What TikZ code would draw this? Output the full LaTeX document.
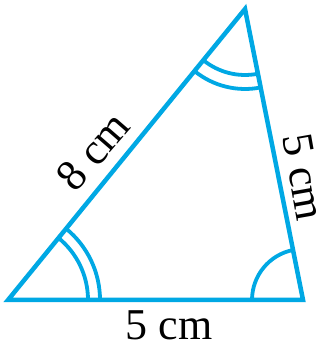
\documentclass[tikz,border=0pt]{standalone}
\usepackage{fontspec}
\setmainfont{Liberation Serif}
\definecolor{tri}{RGB}{0,168,228}
\begin{document}
\begin{tikzpicture}[x=1pt,y=1pt,
  edge/.style={draw=tri,line width=4.5pt,line join=miter},
  anglemark/.style={draw=tri,line width=3.8pt},
  lbl/.style={inner sep=0pt,font=\fontsize{44}{50}\selectfont}]
\useasboundingbox (0,0) rectangle (325,352);
\coordinate (A) at (8,52);
\coordinate (B) at (303,52);
\coordinate (C) at (245,343);
\draw[edge] (A) -- (B) -- (C) -- cycle;
% angle marks
\draw[anglemark] ([shift={(0:80)}]A) arc (0:50.84:80);
\draw[anglemark] ([shift={(0:92)}]A) arc (0:50.84:92);
\draw[anglemark] ([shift={(180:51)}]B) arc (180:101.27:51);
\draw[anglemark] ([shift={(230.84:66)}]C) arc (230.84:281.27:66);
\draw[anglemark] ([shift={(230.84:80)}]C) arc (230.84:281.27:80);
% labels
\node[lbl] (la) at (169,27) {5 cm};
\node[lbl,rotate=49] (lb) at (93,201) {8 cm};
\node[lbl,rotate=-80] (lc) at (304,175) {5 cm};
\end{tikzpicture}
\end{document}
